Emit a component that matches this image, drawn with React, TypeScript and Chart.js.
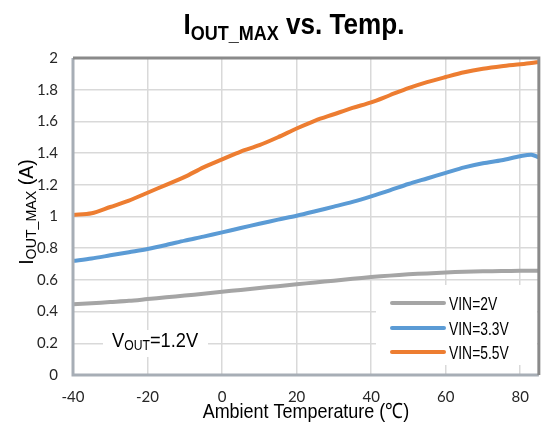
import React, { useEffect, useRef } from "react";
import { Chart, registerables } from "chart.js";

Chart.register(...registerables);

const temps = [-40, -35, -30, -25, -20, -15, -10, -5, 0, 5, 10, 15, 20, 25, 30, 35, 40, 45, 50, 55, 60, 65, 70, 75, 80, 83, 85];
const vin2 = [0.446, 0.452, 0.46, 0.468, 0.479, 0.49, 0.501, 0.513, 0.525, 0.537, 0.549, 0.56, 0.572, 0.584, 0.595, 0.607, 0.618, 0.627, 0.635, 0.641, 0.647, 0.651, 0.654, 0.656, 0.657, 0.657, 0.657];
const vin33 = [0.72, 0.735, 0.755, 0.775, 0.795, 0.82, 0.848, 0.873, 0.9, 0.927, 0.954, 0.98, 1.005, 1.033, 1.062, 1.092, 1.127, 1.165, 1.205, 1.24, 1.275, 1.31, 1.336, 1.355, 1.38, 1.39, 1.373];
const vin55 = [1.01, 1.02, 1.06, 1.1, 1.15, 1.2, 1.25, 1.31, 1.36, 1.41, 1.45, 1.5, 1.555, 1.605, 1.645, 1.685, 1.72, 1.765, 1.81, 1.848, 1.88, 1.91, 1.932, 1.948, 1.96, 1.968, 1.975];
const seriesLabels = ["VIN=2V", "VIN=3.3V", "VIN=5.5V"];
const seriesColors = ["#A5A5A5", "#5B9BD5", "#ED7D31"];
const xTicks = [-40, -20, 0, 20, 40, 60, 80];
const yTicks = [0, 0.2, 0.4, 0.6, 0.8, 1, 1.2, 1.4, 1.6, 1.8, 2];

const SANS = "'Liberation Sans', Arial, sans-serif";

type Seg = { t: string; size: number; bold?: boolean; dy?: number };

// draws text segments; k < 1 compresses horizontally (narrow face)
function drawRich(ctx: CanvasRenderingContext2D, segs: Seg[], x: number, y: number, align: "left" | "center", k: number) {
  const fontOf = (s: Seg) => `${s.bold ? "bold " : ""}${s.size}px ${SANS}`;
  let total = 0;
  const widths = segs.map((s) => {
    ctx.font = fontOf(s);
    const w = ctx.measureText(s.t).width;
    total += w;
    return w;
  });
  const startX = align === "center" ? x - (total * k) / 2 : x;
  ctx.save();
  ctx.translate(startX, y);
  ctx.scale(k, 1);
  ctx.textAlign = "left";
  ctx.textBaseline = "alphabetic";
  let cx = 0;
  segs.forEach((s, i) => {
    ctx.font = fontOf(s);
    ctx.fillText(s.t, cx, s.dy || 0);
    cx += widths[i];
  });
  ctx.restore();
}

const decorPlugin = {
  id: "decor",
  afterDatasetsDraw(chart: any) {
    const ctx: CanvasRenderingContext2D = chart.ctx;
    const a = chart.chartArea;
    ctx.save();
    // border
    ctx.lineWidth = 3;
    ctx.strokeStyle = "#a7aeb6";
    ctx.beginPath();
    ctx.moveTo(a.left, a.top);
    ctx.lineTo(a.left, a.bottom);
    ctx.lineTo(a.right, a.bottom);
    ctx.stroke();
    ctx.strokeStyle = "#8a8a8a";
    ctx.beginPath();
    ctx.moveTo(a.left, a.top);
    ctx.lineTo(a.right, a.top);
    ctx.lineTo(a.right, a.bottom);
    ctx.stroke();

    // legend box
    ctx.fillStyle = "#ffffff";
    ctx.fillRect(376, 285, 161, 80);
    const rows = [303, 328, 352];
    chart.data.datasets.forEach((ds: any, i: number) => {
      const y = rows[i];
      ctx.strokeStyle = ds.borderColor;
      ctx.lineWidth = 4;
      ctx.lineCap = "round";
      ctx.beginPath();
      ctx.moveTo(392, y);
      ctx.lineTo(444, y);
      ctx.stroke();
      ctx.fillStyle = "#000";
      drawRich(ctx, [{ t: ds.label, size: 18.5 }], 449, y + 7, "left", 0.75);
    });

    // Vout annotation
    ctx.fillStyle = "#ffffff";
    ctx.fillRect(103, 330, 105, 27);
    ctx.fillStyle = "#000";
    drawRich(ctx, [
      { t: "V", size: 21 },
      { t: "OUT", size: 14, dy: 3 },
      { t: "=1.2V", size: 21 },
    ], 112, 347, "left", 0.87);

    // title
    drawRich(ctx, [
      { t: "I", size: 29, bold: true },
      { t: "OUT_MAX", size: 20, bold: true, dy: 6 },
      { t: " vs. Temp.", size: 29, bold: true },
    ], 294, 34, "center", 0.9);

    // x title
    drawRich(ctx, [{ t: "Ambient Temperature (\u2103)", size: 21 }], (a.left + a.right) / 2, 418, "center", 0.855);

    // y title
    ctx.save();
    ctx.translate(33, 212);
    ctx.rotate(-Math.PI / 2);
    drawRich(ctx, [
      { t: "I", size: 20 },
      { t: "OUT_MAX", size: 14.5, dy: 3 },
      { t: " (A)", size: 20 },
    ], 0, 0, "center", 0.98);
    ctx.restore();

    ctx.restore();
  },
};

export default function App() {
  const ref = useRef<HTMLCanvasElement | null>(null);
  useEffect(() => {
    if (!ref.current) return;
    const series = [vin2, vin33, vin55];
    const chart = new Chart(ref.current, {
      type: "line",
      data: {
        datasets: series.map((vals, i) => ({
          label: seriesLabels[i],
          data: temps.map((t, j) => ({ x: t, y: vals[j] })),
          borderColor: seriesColors[i],
          backgroundColor: seriesColors[i],
          borderWidth: 4,
          pointRadius: 0,
          tension: 0.3,
          fill: false,
        })),
      },
      options: {
        responsive: false,
        animation: false,
        devicePixelRatio: 1,
        layout: { padding: { left: 0, top: 58, right: 2, bottom: 0 } },
        plugins: { legend: { display: false }, title: { display: false }, tooltip: { enabled: false } },
        scales: {
          x: {
            type: "linear",
            min: -40,
            max: 85,
            afterBuildTicks: (s: any) => {
              s.ticks = xTicks.map((v) => ({ value: v }));
            },
            afterFit: (s: any) => {
              s.height = 57;
            },
            ticks: { padding: 13, color: "#262626", font: { family: "Lato", size: 15 }, maxRotation: 0, callback: (v: any) => String(v) },
            grid: { color: "#d9d9d9", lineWidth: 1.5, drawTicks: false },
            border: { display: false },
          },
          y: {
            type: "linear",
            min: 0,
            max: 2,
            afterBuildTicks: (s: any) => {
              s.ticks = yTicks.map((v) => ({ value: v }));
            },
            afterFit: (s: any) => {
              s.width = 73;
            },
            ticks: { padding: 15, color: "#262626", font: { family: "Lato", size: 15 }, callback: (v: any) => String(v) },
            grid: { color: "#d9d9d9", lineWidth: 1.5, drawTicks: false },
            border: { display: false },
          },
        },
      } as any,
      plugins: [decorPlugin],
    });
    return () => chart.destroy();
  }, []);
  return (
    <div style={{ position: "fixed", left: 0, top: 0, width: 542, height: 432, background: "#fff" }}>
      <canvas ref={ref} width={542} height={432} style={{ width: 542, height: 432, display: "block" }} />
    </div>
  );
}
